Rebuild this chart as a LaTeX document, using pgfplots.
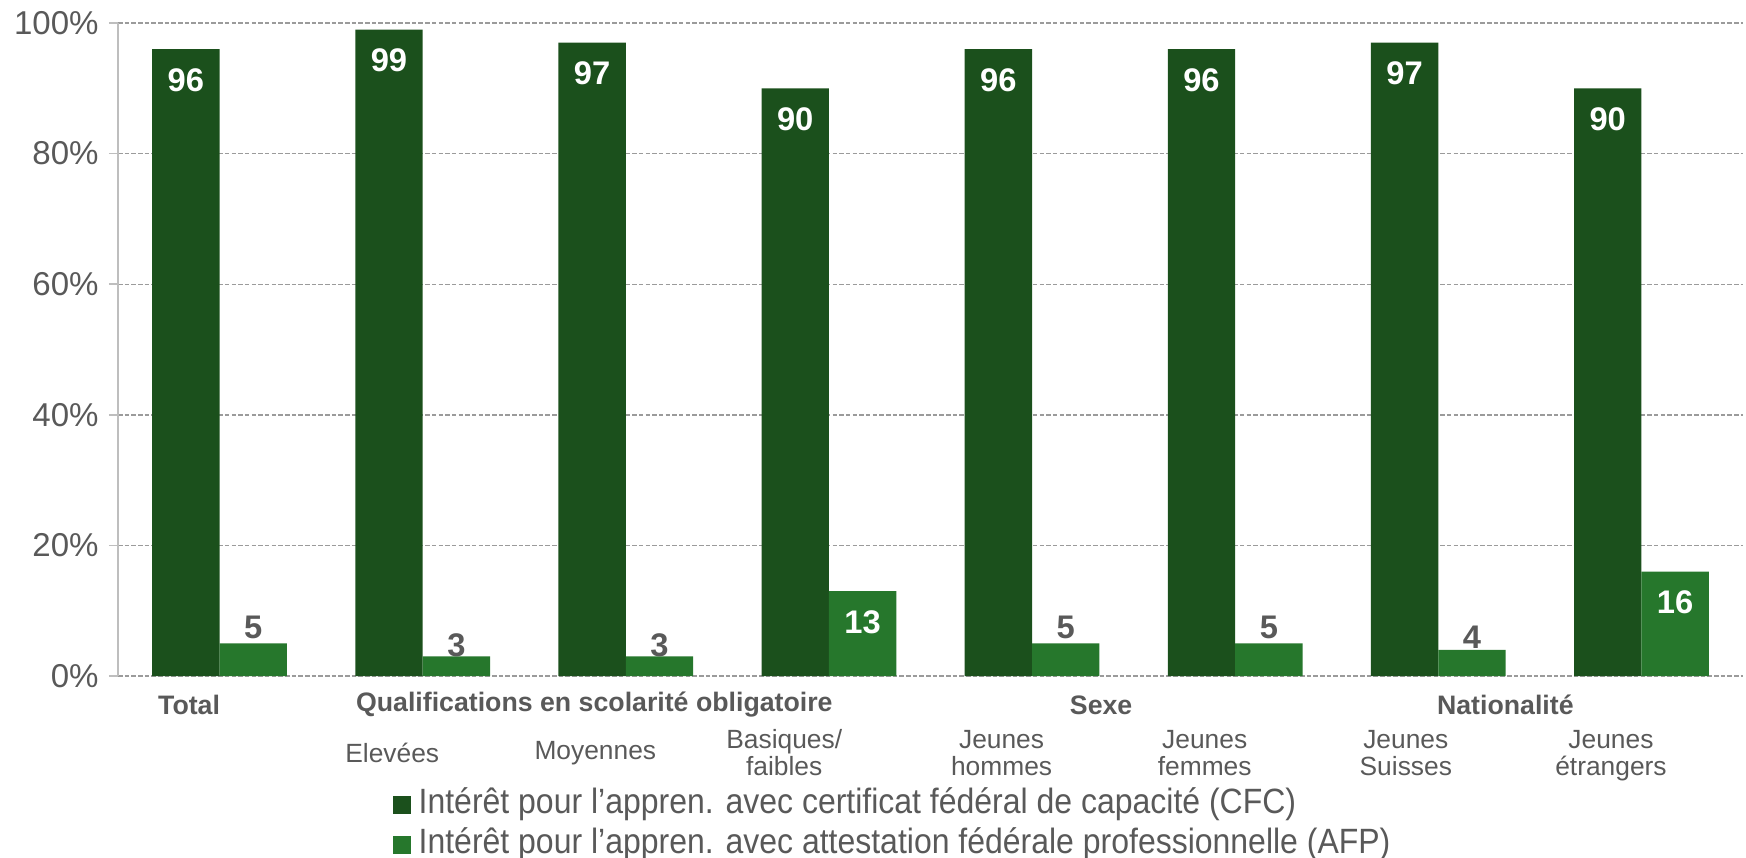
\documentclass[border=0pt]{standalone}
\usepackage{fontspec}
\setmainfont{Liberation Sans}
\newfontfamily\legfont[FakeStretch=0.91]{Liberation Sans}
\usepackage{pgfplots}
\pgfplotsset{compat=1.18}
\usepackage{pgfplotstable}

\definecolor{cfc}{RGB}{27,80,28}
\definecolor{afp}{RGB}{38,119,44}
\definecolor{txt}{RGB}{89,89,89}
\definecolor{gridc}{RGB}{155,155,155}
\definecolor{axc}{RGB}{190,190,190}

% CFC values
\pgfplotstableread{
x y
0 96
1 99
2 97
3 90
4 96
5 96
6 97
7 90
}\cfcdata

% AFP values, white share of label colour, vertical shift (mm)
\pgfplotstableread{
x y w sh
0 5 0 1.6
1 3 0 1.1
2 3 0 1.1
3 13 100 -3.1
4 5 0 1.6
5 5 0 1.6
6 4 0 1.3
7 16 100 -3.1
}\afpdata

\begin{document}
\begin{tikzpicture}
\begin{axis}[
    scale only axis,
    width=162.5mm, height=65.3mm,
    at={(0,0)}, anchor=south west,
    xmin=-0.5, xmax=7.5, ymin=0, ymax=100,
    clip=false,
    axis x line=none, axis y line*=left,
    y axis line style={draw=axc, line width=0.5pt, -},
    ytick={0,20,...,100},
    /pgf/number format/assume math mode=true,
    yticklabel={\pgfmathprintnumber{\tick}\%},
    yticklabel style={font=\fontsize{9.4}{11}\selectfont, text=txt, xshift=0.2mm},
    ymajorgrids,
    grid style={gridc, line width=0.4pt, dash pattern=on 1.3pt off 0.6pt},
    major tick style={axc, line width=0.5pt},
    major tick length=0.9mm, tick align=outside,
    ybar=0pt, bar width=6.74mm,
    legend style={
        at={(0.1686,-0.171)}, anchor=north west,
        draw=none, fill=none, inner sep=0pt,
        font=\legfont\fontsize{10}{12}\selectfont, text=txt,
        row sep=0.7mm,
        nodes={inner sep=0pt, text height=2.5mm, text depth=0.8mm},
    },
    legend cell align=left,
    legend image code/.code={\fill[#1] (0mm,-0.9mm) rectangle (1.8mm,0.9mm);},
]
\addplot[fill=cfc, draw=none,
    nodes near coords,
    every node near coord/.append style={font=\fontsize{9.3}{10}\selectfont\bfseries,
        text=white, anchor=center, yshift=-3.1mm}]
    table[x=x, y=y] {\cfcdata};
\addlegendentry{\hspace{0.8mm}Intérêt pour l’appren. avec certificat fédéral de capacité (CFC)}

\addplot[fill=afp, draw=none,
    visualization depends on={\thisrow{w} \as \afpw},
    visualization depends on={\thisrow{sh} \as \afpsh},
    nodes near coords,
    every node near coord/.append style={font=\fontsize{9.3}{10}\selectfont\bfseries,
        text=white!\afpw!txt, anchor=center, yshift=\afpsh mm}]
    table[x=x, y=y] {\afpdata};
\addlegendentry{\hspace{0.8mm}Intérêt pour l’appren. avec attestation fédérale professionnelle (AFP)}

% group and category labels
\tikzset{grp/.style={font=\fontsize{7.6}{8}\selectfont\bfseries, text=txt, anchor=center, yshift=-2.9mm},
         cat/.style={font=\fontsize{7.5}{7.7}\selectfont, text=txt, align=center, anchor=center, yshift=-7.7mm}}
\node[grp] at (axis cs:-0.15,0) {Total};
\node[grp] at (axis cs:1.845,0) {Qualifications en scolarité obligatoire};
\node[grp] at (axis cs:4.34,0) {Sexe};
\node[grp] at (axis cs:6.33,0) {Nationalité};

\node[cat] at (axis cs:0.85,0) {Elevées};
\node[cat] at (axis cs:1.85,0) {Moyennes};
\node[cat] at (axis cs:2.78,0) {Basiques/\\faibles};
\node[cat] at (axis cs:3.85,0) {Jeunes\\hommes};
\node[cat] at (axis cs:4.85,0) {Jeunes\\femmes};
\node[cat] at (axis cs:5.84,0) {Jeunes\\Suisses};
\node[cat, yshift=-0.3mm] at (axis cs:6.85,0) {Jeunes\\étrangers};
\end{axis}
\pgfresetboundingbox
\path (-11.8mm,-18.1mm) rectangle (162.8mm,67.6mm);
\end{tikzpicture}
\end{document}
